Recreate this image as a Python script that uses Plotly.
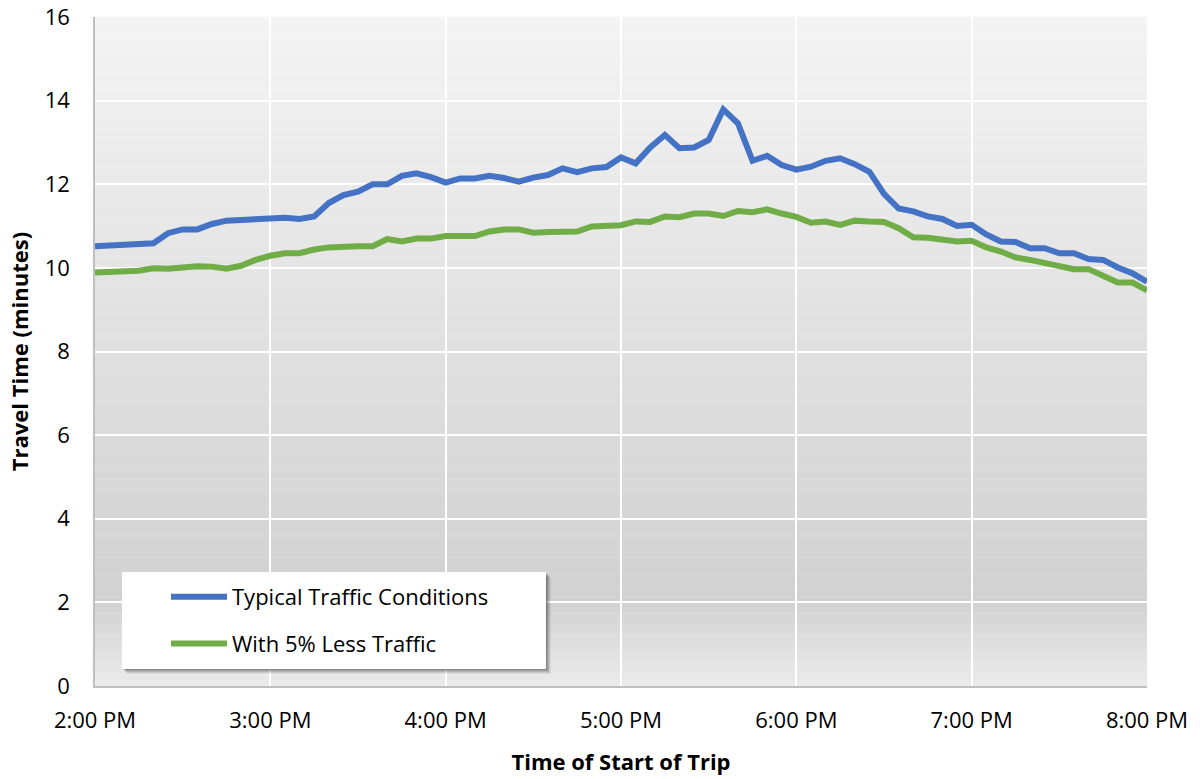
import plotly.graph_objects as go

# ---- data ----
times = [
    "14:00", "14:05", "14:10", "14:15", "14:20", "14:25", "14:30", "14:35", "14:40", "14:45", "14:50", "14:55",
    "15:00", "15:05", "15:10", "15:15", "15:20", "15:25", "15:30", "15:35", "15:40", "15:45", "15:50", "15:55",
    "16:00", "16:05", "16:10", "16:15", "16:20", "16:25", "16:30", "16:35", "16:40", "16:45", "16:50", "16:55",
    "17:00", "17:05", "17:10", "17:15", "17:20", "17:25", "17:30", "17:35", "17:40", "17:45", "17:50", "17:55",
    "18:00", "18:05", "18:10", "18:15", "18:20", "18:25", "18:30", "18:35", "18:40", "18:45", "18:50", "18:55",
    "19:00", "19:05", "19:10", "19:15", "19:20", "19:25", "19:30", "19:35", "19:40", "19:45", "19:50", "19:55",
    "20:00",
]

typical = [
    10.52, 10.53, 10.55, 10.57, 10.59, 10.83, 10.92, 10.92, 11.05, 11.13, 11.15, 11.15,
    11.17, 11.20, 11.17, 11.23, 11.55, 11.74, 11.82, 12.00, 12.00, 12.20, 12.26, 12.17,
    12.04, 12.14, 12.14, 12.20, 12.15, 12.06, 12.16, 12.22, 12.38, 12.29, 12.38, 12.41,
    12.64, 12.50, 12.88, 13.18, 12.86, 12.88, 13.06, 13.79, 13.46, 12.56, 12.68, 12.46,
    12.35, 12.42, 12.56, 12.62, 12.48, 12.30, 11.77, 11.42, 11.35, 11.23, 11.17, 11.00,
    11.03, 10.80, 10.63, 10.62, 10.47, 10.47, 10.35, 10.35, 10.21, 10.19, 10.01, 9.87,
    9.67,
]

less_traffic = [
    9.89, 9.91, 9.90, 9.93, 9.99, 9.98, 10.01, 10.04, 10.03, 9.98, 10.05, 10.19,
    10.29, 10.35, 10.35, 10.44, 10.49, 10.52, 10.52, 10.52, 10.69, 10.63, 10.70, 10.70,
    10.76, 10.76, 10.76, 10.87, 10.92, 10.92, 10.84, 10.86, 10.87, 10.87, 10.99, 11.02,
    11.02, 11.11, 11.10, 11.23, 11.21, 11.30, 11.30, 11.24, 11.36, 11.33, 11.40, 11.30,
    11.22, 11.08, 11.11, 11.03, 11.13, 11.11, 11.10, 10.95, 10.73, 10.72, 10.68, 10.63,
    10.65, 10.49, 10.39, 10.25, 10.19, 10.12, 10.03, 9.97, 9.97, 9.79, 9.65, 9.65,
    9.46,
]

series_names = ["Typical Traffic Conditions", "With 5% Less Traffic"]
series_colors = ["#4472C4", "#70AD47"]

x_tick_times = ["14:00", "15:00", "16:00", "17:00", "18:00", "19:00", "20:00"]
x_tick_labels = ["2:00 PM", "3:00 PM", "4:00 PM", "5:00 PM", "6:00 PM", "7:00 PM", "8:00 PM"]
y_ticks = [0, 2, 4, 6, 8, 10, 12, 14, 16]

DAY = "2024-01-01 "
xs = [DAY + t for t in times]

FONT = "Open Sans"

fig = go.Figure()
for name, vals, col, grp in zip(series_names, [typical, less_traffic], series_colors, ["a", "b"]):
    fig.add_trace(go.Scatter(
        x=xs, y=vals, mode="lines", name=name, legendgroup=grp,
        line=dict(color=col, width=6, shape="linear"),
    ))

# ---- background gradient (plot area) ----
stops = [(0.0, 244), (0.87, 209), (1.0, 235)]
def grey_at(t):
    for (t0, c0), (t1, c1) in zip(stops[:-1], stops[1:]):
        if t0 <= t <= t1:
            return c0 + (c1 - c0) * (t - t0) / (t1 - t0)
    return stops[-1][1]

shapes = []
N = 120
for k in range(N):
    t = (k + 0.5) / N
    g = int(round(grey_at(t)))
    shapes.append(dict(
        type="rect", xref="paper", yref="paper", layer="below",
        x0=0, x1=1, y0=1 - (k + 1) / N, y1=1 - k / N + 0.0005,
        fillcolor=f"rgb({g},{g},{g})", line=dict(width=0),
    ))

# ---- legend box with soft shadow ----
W, H = 1052.0, 669.0
bx0, bx1, by0, by1 = 122, 546, 572, 669   # pixel box
def px_to_paper_x(p): return (p - 95) / W
def px_to_paper_y(p): return (686 - p) / H
for off, op in [(5, 0.06), (4, 0.08), (3, 0.10), (2, 0.12), (1, 0.14)]:
    shapes.append(dict(
        type="rect", xref="paper", yref="paper", layer="above",
        x0=px_to_paper_x(bx0 + off), x1=px_to_paper_x(bx1 + off),
        y0=px_to_paper_y(by1 + off), y1=px_to_paper_y(by0 + off),
        fillcolor="black", opacity=op, line=dict(width=0),
    ))
shapes.append(dict(
    type="rect", xref="paper", yref="paper", layer="above",
    x0=px_to_paper_x(bx0), x1=px_to_paper_x(bx1),
    y0=px_to_paper_y(by1), y1=px_to_paper_y(by0),
    fillcolor="white", line=dict(width=0),
))

fig.update_layout(
    width=1200, height=779,
    margin=dict(l=95, r=53, t=17, b=93),
    paper_bgcolor="white",
    plot_bgcolor="rgba(0,0,0,0)",
    font=dict(family=FONT, size=22, color="#000000"),
    shapes=shapes,
    showlegend=True,
    legend=dict(
        x=px_to_paper_x(166), y=px_to_paper_y(576), xanchor="left", yanchor="top",
        bgcolor="rgba(0,0,0,0)", borderwidth=0,
        font=dict(family=FONT, size=22, color="#000000"),
        itemwidth=56, tracegroupgap=15,
    ),
)

fig.update_xaxes(
    type="date",
    range=[DAY + "14:00", DAY + "20:00"],
    tickmode="array",
    tickvals=[DAY + t for t in x_tick_times],
    ticktext=x_tick_labels,
    showgrid=True, gridcolor="white", gridwidth=1.5,
    showline=True, linecolor="#bfbfbf", linewidth=1.5,
    ticks="", ticklabelstandoff=14, automargin=False,
    tickfont=dict(family=FONT, size=22, color="#000000"),
    title=dict(text="<b>Time of Start of Trip</b>", standoff=21,
               font=dict(family=FONT, size=22, color="#000000")),
)
fig.update_yaxes(
    range=[0, 16],
    tickmode="array", tickvals=y_ticks, ticktext=[str(v) for v in y_ticks],
    showgrid=True, gridcolor="white", gridwidth=1.5,
    zeroline=False,
    showline=True, linecolor="#bfbfbf", linewidth=1.5,
    ticks="", ticklabelstandoff=19, automargin=False,
    tickfont=dict(family=FONT, size=22, color="#000000"),
    title=dict(text="<b>Travel Time (minutes)</b>", standoff=10,
               font=dict(family=FONT, size=22, color="#000000")),
)

fig.write_html("out.html")
